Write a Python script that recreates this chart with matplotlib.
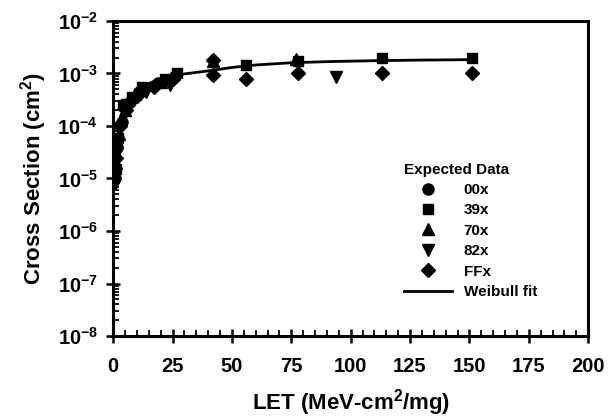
import matplotlib
matplotlib.use('Agg')
import matplotlib.pyplot as plt
from matplotlib.ticker import MultipleLocator, LogLocator, FixedLocator, NullFormatter

plt.rcParams['font.family'] = 'Liberation Sans'
plt.rcParams['font.weight'] = 'bold'
plt.rcParams['mathtext.fontset'] = 'custom'
plt.rcParams['mathtext.rm'] = 'Liberation Sans:weight=bold'
plt.rcParams['mathtext.bf'] = 'Liberation Sans:weight=bold'
plt.rcParams['mathtext.default'] = 'bf'

# expected data, LET (MeV-cm2/mg) vs cross section (cm2)
let_00x = [0.9, 1.8, 3.5, 7, 11, 19, 26]
xs_00x = [1e-5, 4e-5, 1.2e-4, 2.8e-4, 4.5e-4, 6.5e-4, 9e-4]

let_39x = [1.0, 2.0, 4, 8, 12, 22, 27, 56, 78, 113, 151]
xs_39x = [1.5e-5, 6e-5, 2.5e-4, 3.5e-4, 5.5e-4, 8e-4, 1e-3, 1.45e-3, 1.75e-3, 1.95e-3, 1.95e-3]

let_70x = [1.2, 2.5, 5, 9, 20, 42, 77]
xs_70x = [2e-5, 7e-5, 2e-4, 4e-4, 7e-4, 1.7e-3, 1.9e-3]

let_82x = [0.8, 1.5, 3, 6, 14, 24, 94]
xs_82x = [8e-6, 3e-5, 9e-5, 2.5e-4, 4.5e-4, 6e-4, 8.7e-4]

let_ffx = [1.3, 2.8, 5.5, 10, 17, 25, 42, 42, 56, 78, 113, 151]
xs_ffx = [2.5e-5, 1e-4, 2e-4, 3.8e-4, 5.5e-4, 8e-4, 1.8e-3, 9.3e-4, 8e-4, 1e-3, 1e-3, 1e-3]

# weibull fit
let_fit = [0.8, 1.5, 2.5, 4, 6, 9, 13, 18, 24, 30, 40, 50, 60, 75, 90, 110, 130, 150]
xs_fit = [1e-5, 3e-5, 8e-5, 1.7e-4, 2.8e-4, 4.2e-4, 5.8e-4, 7.4e-4, 8.8e-4, 9.8e-4,
          1.12e-3, 1.3e-3, 1.45e-3, 1.6e-3, 1.68e-3, 1.75e-3, 1.8e-3, 1.83e-3]

fig = plt.figure(figsize=(6.12, 4.19), dpi=100)
ax = fig.add_axes([0.185, 0.198, 0.776, 0.752])

ms = 8
ax.plot(let_00x, xs_00x, 'o', color='black', ms=ms, label='00x')
ax.plot(let_39x, xs_39x, 's', color='black', ms=ms - 0.5, label='39x')
ax.plot(let_70x, xs_70x, '^', color='black', ms=ms, label='70x')
ax.plot(let_82x, xs_82x, 'v', color='black', ms=ms, label='82x')
ax.plot(let_ffx, xs_ffx, 'D', color='black', ms=ms - 0.5, label='FFx')
ax.plot(let_fit, xs_fit, '-', color='black', lw=2, label='Weibull fit')

ax.set_yscale('log')
ax.set_xlim(0, 200)
ax.set_ylim(1e-8, 1e-2)

ax.xaxis.set_major_locator(MultipleLocator(25))
ax.xaxis.set_minor_locator(MultipleLocator(5))
ax.yaxis.set_major_locator(FixedLocator([10.0 ** e for e in range(-8, -1)]))
ax.yaxis.set_minor_locator(LogLocator(base=10, subs=range(2, 10), numticks=20))
ax.yaxis.set_minor_formatter(NullFormatter())
ax.set_yticklabels([r'$\mathbf{10^{%d}}$' % e for e in range(-8, -1)])

ax.tick_params(axis='both', which='major', direction='inout', length=10, width=1.8,
               labelsize=14.5, pad=6)
ax.tick_params(axis='both', which='minor', direction='in', length=4, width=1.3)
ax.tick_params(axis='x', which='major', pad=10)
for lab in ax.get_xticklabels() + ax.get_yticklabels():
    lab.set_fontweight('bold')

for sp in ax.spines.values():
    sp.set_linewidth(2.2)

ax.set_xlabel(r'LET (MeV-cm$^2$/mg)', fontsize=16, fontweight='bold', labelpad=8)
ax.set_ylabel(r'Cross Section (cm$^2$)', fontsize=16, fontweight='bold', labelpad=6)

leg = ax.legend(loc='upper left', bbox_to_anchor=(0.6, 0.57), frameon=False,
                title='Expected Data', fontsize=11, handlelength=3.1,
                handletextpad=0.8, labelspacing=0.42, borderaxespad=0)
leg._legend_box.align = 'left'
leg.get_title().set_fontweight('bold')
leg.get_title().set_fontsize(11)
for t in leg.get_texts():
    t.set_fontweight('bold')

fig.savefig('out.png', dpi=100, facecolor='white')
